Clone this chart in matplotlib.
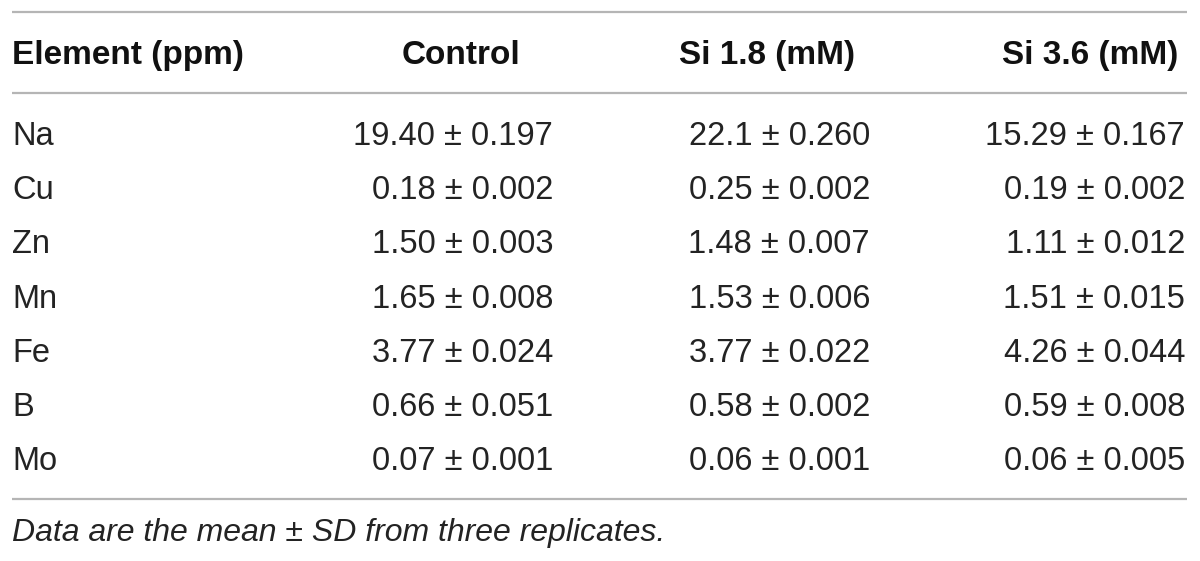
import matplotlib
matplotlib.use("Agg")
import matplotlib.pyplot as plt

elements = ["Na", "Cu", "Zn", "Mn", "Fe", "B", "Mo"]
headers = ["Element (ppm)", "Control", "Si 1.8 (mM)", "Si 3.6 (mM)"]
control_mean = ["19.40", "0.18", "1.50", "1.65", "3.77", "0.66", "0.07"]
control_sd = ["0.197", "0.002", "0.003", "0.008", "0.024", "0.051", "0.001"]
si18_mean = ["22.1", "0.25", "1.48", "1.53", "3.77", "0.58", "0.06"]
si18_sd = ["0.260", "0.002", "0.007", "0.006", "0.022", "0.002", "0.001"]
si36_mean = ["15.29", "0.19", "1.11", "1.51", "4.26", "0.59", "0.06"]
si36_sd = ["0.167", "0.002", "0.012", "0.015", "0.044", "0.008", "0.005"]
footnote = "Data are the mean \u00b1 SD from three replicates."

W, H = 1200, 561
fig = plt.figure(figsize=(W / 100, H / 100), dpi=100)
ax = fig.add_axes([0, 0, 1, 1])
ax.set_xlim(0, W)
ax.set_ylim(H, 0)
ax.axis("off")

font = "Liberation Sans"
fs = 23.5
hfs = 24
line_col = "#b5b5b5"
txt_col = "#232323"

# rules
for y in (12, 93, 499):
    ax.plot([12, 1187], [y, y], color=line_col, lw=1.6, solid_capstyle="butt")

# headers
hdr_x = [12, 461, 767, 1090]
hdr_ha = ["left", "center", "center", "center"]
for h, x, ha in zip(headers, hdr_x, hdr_ha):
    ax.text(x, 64, h, ha=ha, va="baseline", fontsize=hfs, fontweight="bold",
            family=font, color="#111111")

# rows
row0, step = 145, 54.2
col_right = [553, 870, 1185]
cols = [(control_mean, control_sd), (si18_mean, si18_sd), (si36_mean, si36_sd)]
for i, el in enumerate(elements):
    y = row0 + i * step
    ax.text(12, y, el, ha="left", va="baseline", fontsize=fs, family=font, color=txt_col)
    for (means, sds), xr in zip(cols, col_right):
        ax.text(xr, y, f"{means[i]} \u00b1 {sds[i]}", ha="right", va="baseline",
                fontsize=fs, family=font, color=txt_col)

ax.text(12, 541, footnote, ha="left", va="baseline", fontsize=23,
        style="italic", family=font, color=txt_col)

fig.savefig("out.png", dpi=100)
